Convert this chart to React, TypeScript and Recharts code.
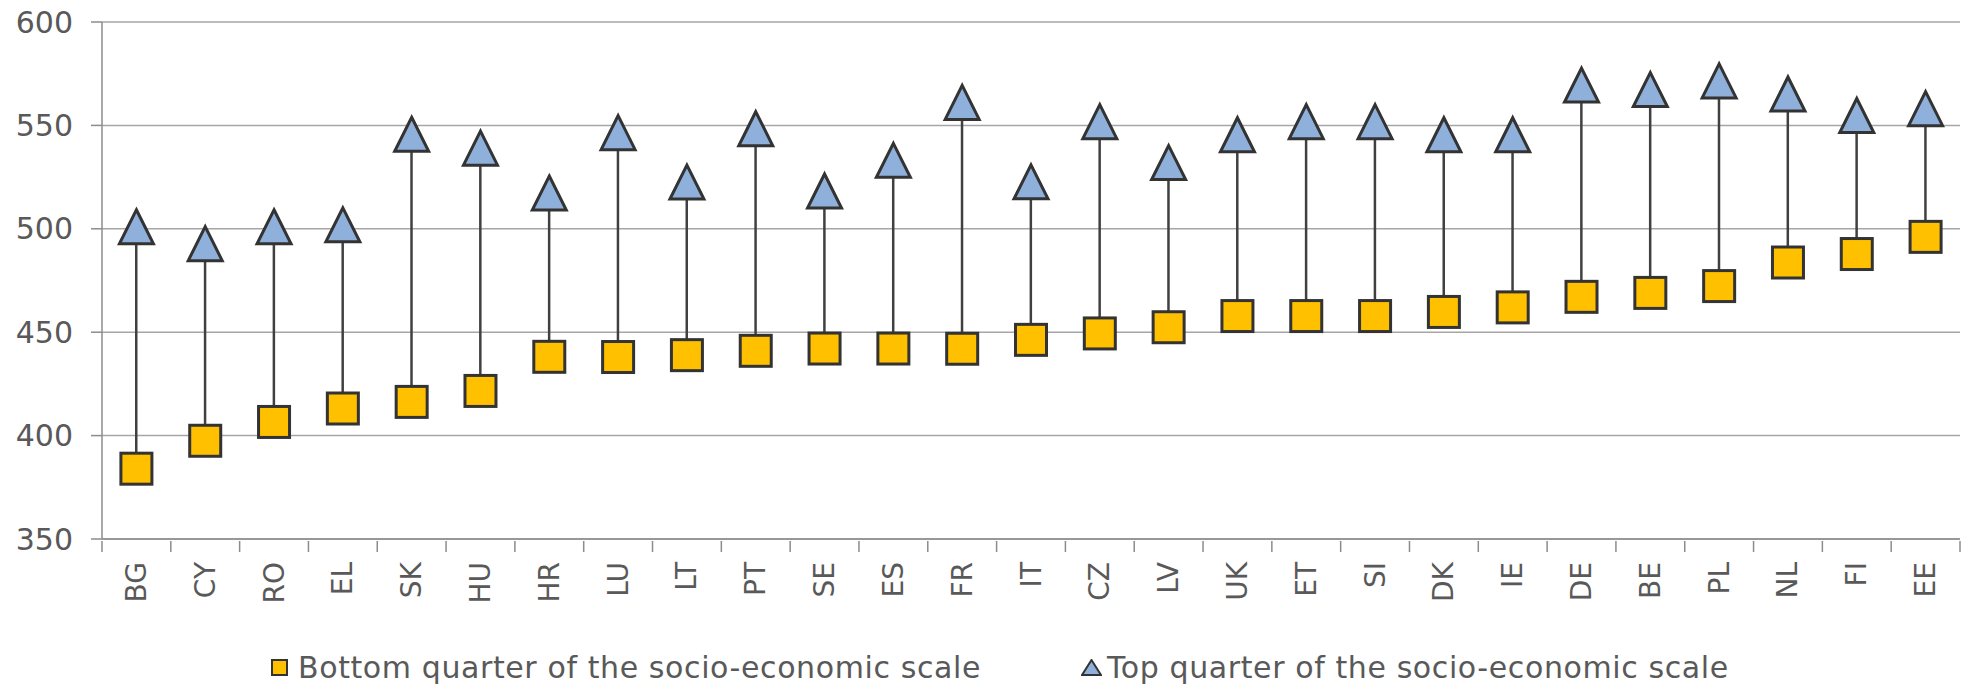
import { Bar, CartesianGrid, ComposedChart, Legend, Line, XAxis, YAxis } from 'recharts'

const countries = ['BG', 'CY', 'RO', 'EL', 'SK', 'HU', 'HR', 'LU', 'LT', 'PT', 'SE', 'ES', 'FR', 'IT', 'CZ', 'LV', 'UK', 'ET', 'SI', 'DK', 'IE', 'DE', 'BE', 'PL', 'NL', 'FI', 'EE']
const bottomQuarter = [384, 397.5, 406.6, 413.1, 416.3, 421.6, 438.1, 438, 438.9, 441, 442.1, 442.1, 442, 446.3, 449.4, 452.4, 457.8, 457.8, 457.8, 459.8, 462, 467.1, 469, 472.3, 483.7, 487.8, 496.1]
const topQuarter = [501, 492.8, 501, 501.9, 545.7, 539, 517.3, 546.5, 522.6, 548.4, 518.3, 533.1, 561.1, 522.7, 551.8, 532, 545.5, 551.8, 551.8, 545.5, 545.5, 569.5, 567.3, 571.5, 565.2, 554.8, 558.1]
const yTicks = [350, 400, 450, 500, 550, 600]
const legendLabels = ['Bottom quarter of the socio-economic scale', 'Top quarter of the socio-economic scale']

const data = countries.map((country, i) => ({
  country,
  bottom: bottomQuarter[i],
  top: topQuarter[i],
  range: [bottomQuarter[i], topQuarter[i]],
}))

const W = 1966
const H = 687
const MARGIN = { top: 22, right: 6, left: 0, bottom: 0 }
const Y_AXIS_W = 102
const BAND = (W - MARGIN.right - Y_AXIS_W) / countries.length

const FONT = '"DejaVu Sans", Verdana, sans-serif'
const TEXT = '#595959'
const AXIS = '#8c8c8c'
const EDGE = '#333333'
const GOLD = '#ffc000'
const BLUE = '#8eb0da'

function SquareDot(props: any) {
  const { cx, cy } = props
  if (cx == null || cy == null) return null
  const s = 31
  return <rect x={cx - s / 2} y={cy - s / 2} width={s} height={s} fill={GOLD} stroke={EDGE} strokeWidth={3} />
}

function TriangleDot(props: any) {
  const { cx, cy } = props
  if (cx == null || cy == null) return null
  const w = 34
  const h = 34
  const pts = `${cx},${cy - h / 2} ${cx + w / 2},${cy + h / 2} ${cx - w / 2},${cy + h / 2}`
  return <polygon points={pts} fill={BLUE} stroke={EDGE} strokeWidth={3} strokeLinejoin="miter" />
}

function CountryTick(props: any) {
  const { x, y, payload } = props
  const last = payload.index === countries.length - 1
  return (
    <g>
      <line x1={x - BAND / 2} x2={x - BAND / 2} y1={y} y2={y + 11} stroke={AXIS} strokeWidth={1.5} />
      {last && <line x1={x + BAND / 2} x2={x + BAND / 2} y1={y} y2={y + 11} stroke={AXIS} strokeWidth={1.5} />}
      <text
        x={x}
        y={y + 21}
        transform={`rotate(-90, ${x}, ${y + 21})`}
        textAnchor="end"
        dominantBaseline="central"
        fill={TEXT}
        fontSize={28}
        fontFamily={FONT}
      >
        {payload.value}
      </text>
    </g>
  )
}

function ChartLegend() {
  return (
    <div
      style={{
        height: 40,
        display: 'flex',
        alignItems: 'center',
        paddingLeft: 271,
        fontFamily: FONT,
        fontSize: 30,
        letterSpacing: 0.6,
        color: TEXT,
        whiteSpace: 'nowrap',
      }}
    >
      <svg width={17} height={17} style={{ marginRight: 10 }}>
        <rect x={1} y={1} width={15} height={15} fill={GOLD} stroke={EDGE} strokeWidth={2} />
      </svg>
      <span>{legendLabels[0]}</span>
      <svg width={21} height={17} style={{ marginLeft: 100, marginRight: 5 }}>
        <polygon points="10.5,1 20,16 1,16" fill={BLUE} stroke={EDGE} strokeWidth={2} />
      </svg>
      <span>{legendLabels[1]}</span>
    </div>
  )
}

export default function App() {
  return (
    <div style={{ position: 'absolute', left: 0, top: 0, width: W, height: H, background: '#fff' }}>
      <ComposedChart width={W} height={H} data={data} margin={MARGIN} barCategoryGap={0}>
        <CartesianGrid vertical={false} stroke="#a6a6a6" strokeWidth={1.5} />
        <XAxis
          dataKey="country"
          interval={0}
          height={108}
          tickSize={0}
          tickLine={false}
          stroke={AXIS}
          strokeWidth={1.5}
          tick={<CountryTick />}
        />
        <YAxis
          domain={[350, 600]}
          ticks={yTicks}
          width={Y_AXIS_W}
          tickSize={11}
          tickMargin={18}
          stroke={AXIS}
          strokeWidth={1.5}
          tick={{ fill: TEXT, fontSize: 30, fontFamily: FONT }}
          interval={0}
        />
        <Legend verticalAlign="bottom" content={() => <ChartLegend />} />
        <Bar dataKey="range" barSize={2.5} fill="#404040" isAnimationActive={false} legendType="none" />
        <Line dataKey="bottom" stroke="none" dot={<SquareDot />} activeDot={false} isAnimationActive={false} />
        <Line dataKey="top" stroke="none" dot={<TriangleDot />} activeDot={false} isAnimationActive={false} />
      </ComposedChart>
    </div>
  )
}
